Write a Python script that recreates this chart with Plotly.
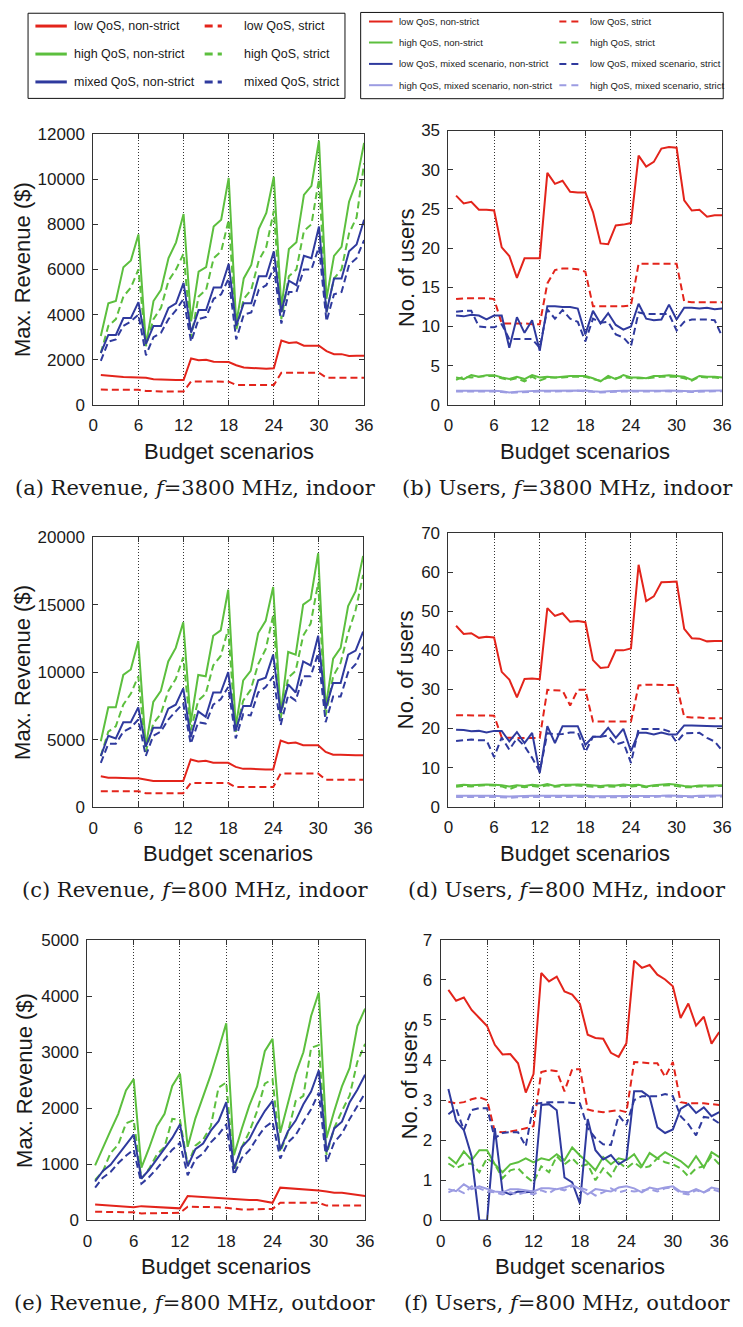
import plotly.graph_objects as go

W, H = 743, 1327
x = list(range(1, 37))

# ---------------- data ----------------
# (a) Revenue, 3800 MHz indoor
a_low_ns = [1330,1290,1280,1240,1230,1230,1200,1140,1120,1110,1100,1100,2060,1980,2000,1910,1900,1900,1760,1660,1640,1610,1600,1620,2850,2740,2770,2620,2620,2620,2380,2250,2250,2170,2180,2180]
a_low_s = [680,680,680,680,680,670,620,600,600,600,600,600,1040,1040,1040,1040,1040,1030,880,880,880,880,880,880,1430,1430,1430,1430,1430,1430,1200,1200,1200,1200,1200,1200]
a_high_ns = [3050,4500,4600,6100,6400,7550,2650,4600,5100,6500,7200,8450,3700,5900,6100,7900,8200,10050,3600,5600,6200,7800,8500,10100,4300,6900,7200,9300,9700,11700,4700,6600,7000,9000,9900,11600]
a_high_s = [2300,3500,3800,4800,5200,6000,2600,3800,4300,5500,6000,6700,3000,4800,5100,6500,6800,8200,3300,4700,5100,6400,7000,8600,3800,5700,6000,7700,8000,10000,4100,5600,6000,7600,8300,10700]
a_mix_ns = [2300,3100,3100,3850,3850,4550,2700,3500,3500,4300,4500,5400,3200,4200,4200,5200,5200,6250,3500,4500,4500,5700,5700,6800,4100,5500,5300,6600,6500,7900,4100,5600,5600,6800,7100,8200]
a_mix_s = [1950,2800,2900,3500,3700,4000,2200,3000,3200,3800,4200,4700,2800,3800,3900,4700,4900,5600,2900,4000,4100,5100,5300,6100,3600,5000,5000,6000,6000,7000,3700,4900,5000,6200,6500,7300]

# (b) Users, 3800 MHz indoor
b_low_ns = [26.7,25.7,25.9,24.9,24.9,24.8,20.1,19.0,16.2,18.7,18.7,18.7,29.6,28.2,28.6,27.2,27.1,27.1,24.6,20.6,20.5,22.9,23.0,23.2,31.8,30.4,31.0,32.7,32.9,32.8,26.1,24.8,24.9,24.0,24.2,24.2]
b_low_s = [13.5,13.6,13.6,13.6,13.6,13.5,10.4,10.4,10.4,10.4,10.3,10.3,15.5,17.2,17.4,17.4,17.3,17.0,12.6,12.6,12.6,12.6,12.6,12.7,18.0,18.0,18.0,18.0,18.0,18.0,13.2,13.1,13.1,13.1,13.1,13.1]
b_high_ns = [3.5,3.3,3.8,3.6,3.8,3.8,3.5,3.3,3.6,3.3,3.8,3.5,3.6,3.5,3.6,3.7,3.7,3.7,3.4,3.0,3.7,3.3,3.8,3.5,3.5,3.4,3.7,3.7,3.8,3.7,3.6,3.2,3.7,3.6,3.6,3.5]
b_high_s = [3.2,3.6,3.5,3.6,3.7,3.7,3.4,3.2,3.4,3.0,3.6,3.1,3.5,3.5,3.5,3.6,3.6,3.6,3.3,3.1,3.5,3.4,3.6,3.4,3.4,3.4,3.5,3.6,3.6,3.6,3.4,3.1,3.6,3.5,3.5,3.4]
b_mlow_ns = [11.4,11.3,11.5,11.4,10.9,11.4,11.4,7.3,11.2,9.2,10.8,6.9,12.6,12.6,12.5,12.5,12.3,9.0,12.0,10.4,11.7,10.2,9.6,10.0,12.9,11.0,10.8,10.9,12.8,10.9,12.4,12.4,12.3,12.4,12.2,12.3]
b_mlow_s = [11.9,12.0,12.0,10.0,9.9,9.9,10.3,8.4,8.4,8.4,8.4,7.3,12.2,11.0,12.1,11.0,10.6,8.1,11.0,10.5,10.6,9.0,8.6,7.5,11.8,11.6,11.6,11.6,11.6,9.5,10.6,10.9,10.9,10.9,10.8,8.7]
b_mhigh_ns = [1.8,1.8,1.8,1.85,1.8,1.8,1.75,1.6,1.7,1.75,1.8,1.8,1.8,1.8,1.8,1.85,1.85,1.85,1.75,1.7,1.75,1.8,1.8,1.8,1.8,1.75,1.8,1.8,1.85,1.8,1.8,1.75,1.8,1.8,1.85,1.85]
b_mhigh_s = [1.7,1.7,1.75,1.75,1.7,1.7,1.65,1.55,1.6,1.65,1.7,1.7,1.7,1.7,1.75,1.75,1.8,1.75,1.65,1.6,1.65,1.7,1.7,1.7,1.7,1.65,1.7,1.75,1.75,1.7,1.7,1.65,1.7,1.7,1.75,1.75]

# (c) Revenue, 800 MHz indoor
c_low_ns = [2300,2200,2200,2150,2150,2150,2050,1950,1950,1950,1950,1950,3550,3400,3450,3300,3300,3300,3000,2850,2850,2800,2800,2800,4950,4750,4800,4600,4600,4600,4100,3900,3900,3850,3850,3850]
c_low_s = [1200,1200,1200,1200,1200,1200,1050,1050,1050,1050,1050,1050,1800,1800,1800,1800,1800,1800,1500,1500,1500,1500,1500,1500,2500,2500,2500,2500,2500,2500,2050,2050,2050,2050,2050,2050]
c_high_ns = [4900,7400,7400,9800,10200,12300,4500,7800,8600,10800,11800,13700,6300,9800,9700,12700,13100,16100,6000,9400,10100,12900,13800,16300,6900,11500,11300,15000,15400,18800,7400,11000,11800,14900,16000,18600]
c_high_s = [3800,5600,6000,7600,8400,9700,4100,6200,6900,8600,9500,11100,5700,7900,8400,10500,11200,13200,5600,7900,8700,10600,11700,14200,6600,9600,10100,12700,13600,16600,6800,9700,10700,12900,14600,17200]
c_mix_ns = [3800,5300,5100,6300,6300,7400,4500,5900,5900,7300,7600,8800,5200,7100,6700,8500,8500,10000,5700,7500,7500,9400,9600,11300,7000,9100,8500,10800,10500,12700,7300,9200,9200,11300,11600,13000]
c_mix_s = [3300,4700,4700,5600,5900,6500,3800,5300,5600,6500,7100,7700,4700,6300,6200,7600,8000,8900,5100,6900,6800,8500,8900,9700,6100,8300,7900,9700,9700,11400,6300,8200,8200,10000,10600,11900]

# (d) Users, 800 MHz indoor
d_low_ns = [46.3,44.2,44.4,43.2,43.5,43.3,34.5,32.5,28.0,32.7,32.8,32.6,50.8,48.8,49.5,47.3,47.5,47.2,37.5,35.5,35.7,40.0,40.0,40.5,61.9,52.6,53.8,57.4,57.5,57.6,45.5,43.1,43.0,42.3,42.4,42.4]
d_low_s = [23.4,23.4,23.4,23.4,23.4,23.3,17.7,17.6,17.6,17.6,17.6,17.6,29.9,29.8,29.7,25.9,29.9,29.9,21.8,21.8,21.8,21.8,21.8,21.8,31.0,31.2,31.2,31.2,31.1,31.1,23.0,22.8,22.8,22.6,22.6,22.6]
d_high_ns = [5.4,5.6,5.5,5.6,5.7,5.6,5.5,5.2,5.5,5.3,5.6,5.4,5.8,5.3,5.6,5.6,5.7,5.6,5.4,5.3,5.5,5.4,5.7,5.5,5.6,5.2,5.5,5.6,5.8,5.6,5.3,5.2,5.4,5.4,5.5,5.5]
d_high_s = [5.1,5.3,5.2,5.4,5.5,5.4,5.2,4.5,5.2,5.0,5.3,5.1,5.5,5.1,5.3,5.4,5.4,5.3,5.1,5.0,5.2,5.1,5.4,5.2,5.3,5.0,5.3,5.4,5.5,5.3,5.0,5.0,5.2,5.2,5.3,5.3]
d_mlow_ns = [19.7,19.6,19.3,19.4,19.0,19.4,19.4,16.7,19.1,16.3,18.9,8.6,20.6,16.3,20.6,20.6,20.6,15.8,17.9,17.9,20.2,17.6,19.9,14.2,18.9,18.9,18.5,19.0,18.5,18.5,20.8,20.8,20.7,20.6,20.6,20.6]
d_mlow_s = [16.8,17.0,17.2,17.0,17.0,12.7,17.7,14.6,17.5,15.5,12.5,9.0,18.8,18.5,18.6,19.0,19.0,14.0,17.9,17.9,18.2,15.9,16.5,11.2,19.9,19.9,19.9,19.9,19.3,16.5,18.8,18.8,18.9,17.6,16.7,14.3]
d_mhigh_ns = [2.8,2.8,2.8,2.9,2.8,2.8,2.7,2.6,2.7,2.8,2.8,2.8,2.8,2.8,2.8,2.9,2.8,2.8,2.7,2.7,2.8,2.8,2.8,2.8,2.8,2.7,2.8,2.8,2.9,2.8,2.8,2.7,2.8,2.8,2.9,2.9]
d_mhigh_s = [2.5,2.5,2.6,2.6,2.5,2.5,2.4,2.3,2.4,2.5,2.5,2.5,2.5,2.5,2.6,2.6,2.6,2.5,2.4,2.4,2.5,2.5,2.5,2.5,2.5,2.4,2.5,2.6,2.6,2.5,2.5,2.4,2.5,2.5,2.6,2.6]

# (e) Revenue, 800 MHz outdoor
e_low_ns = [280,270,260,250,240,230,250,240,240,230,220,210,430,420,420,400,390,380,370,370,360,360,330,310,580,570,570,550,540,530,510,490,490,470,450,430]
e_low_s = [150,150,150,150,140,140,120,120,120,130,130,130,240,240,230,230,230,220,200,190,190,190,200,200,310,310,310,310,310,310,260,260,260,260,260,260]
e_high_ns = [980,1300,1600,1900,2320,2520,940,1290,1680,1900,2400,2620,1310,1820,2220,2600,3050,3520,1160,1630,2050,2390,3020,3240,1560,2090,2620,3000,3650,4070,1470,1950,2390,2720,3470,3780]
e_high_s = [720,870,1200,1350,1730,1790,740,920,1170,1310,1810,1790,990,1330,1440,1680,2370,2460,880,1300,1580,1950,2440,2520,1220,1570,2130,2220,3080,3130,1170,1650,1950,2230,2830,3150]
e_mix_ns = [690,880,990,1170,1340,1530,740,900,1090,1270,1470,1710,960,1270,1370,1600,1770,2110,920,1300,1450,1720,1950,2130,1260,1590,1780,2070,2300,2680,1220,1640,1760,2110,2330,2600]
e_mix_s = [580,760,860,1020,1150,1260,650,770,920,1100,1260,1380,800,1090,1190,1390,1530,1710,810,1110,1250,1470,1660,1760,1100,1390,1520,1760,1980,2280,1030,1390,1550,1810,2040,2270]

# (f) Users, 800 MHz outdoor
f_low_ns = [5.75,5.48,5.56,5.25,5.05,4.85,4.38,4.14,4.15,3.92,3.19,3.65,6.17,5.96,6.08,5.71,5.63,5.40,4.63,4.55,4.53,4.18,4.08,4.42,6.48,6.30,6.37,6.13,6.01,5.84,5.05,5.41,4.86,5.08,4.41,4.70]
f_low_s = [2.96,2.92,2.95,3.02,3.07,3.00,2.22,2.20,2.22,2.25,2.30,2.35,3.70,3.75,3.72,3.22,3.77,3.77,2.77,2.72,2.70,2.72,2.75,2.70,3.95,3.94,3.92,3.92,3.58,3.95,2.95,2.92,2.92,2.92,2.90,2.88]
f_high_ns = [1.58,1.42,1.72,1.50,1.75,1.75,1.40,1.20,1.40,1.45,1.55,1.45,1.55,1.50,1.65,1.50,1.82,1.62,1.45,1.25,1.58,1.40,1.55,1.50,1.65,1.35,1.68,1.55,1.70,1.60,1.48,1.32,1.60,1.32,1.70,1.58]
f_high_s = [1.42,1.30,1.40,1.42,1.20,1.55,1.40,1.05,1.25,1.30,1.10,0.95,1.35,1.20,1.60,1.40,1.55,1.35,1.40,1.00,1.30,1.10,1.45,1.30,1.45,1.30,1.35,1.55,1.45,1.40,1.30,1.10,1.30,1.35,1.60,1.40]
f_mlow_ns = [3.28,2.48,2.25,1.60,0.0,0.0,2.30,0.72,0.65,0.72,0.70,0.72,2.88,2.90,2.75,1.07,0.95,0.42,2.53,1.75,1.52,1.63,1.40,1.52,3.22,3.22,3.08,2.32,2.18,2.27,2.78,2.90,2.68,2.82,2.60,2.70]
f_mlow_s = [2.65,2.80,2.25,2.75,2.80,2.80,2.05,2.18,2.20,2.20,1.85,2.90,2.93,2.95,2.95,2.95,2.93,2.92,2.30,2.05,1.90,1.88,2.62,2.38,3.00,3.10,3.10,3.10,3.15,3.10,2.60,2.40,2.12,2.58,2.55,2.42]
f_mhigh_ns = [0.78,0.73,0.90,0.78,0.85,0.78,0.72,0.70,0.78,0.78,0.75,0.72,0.80,0.80,0.78,0.82,0.88,0.78,0.65,0.78,0.75,0.72,0.82,0.85,0.80,0.70,0.82,0.78,0.82,0.85,0.72,0.70,0.78,0.70,0.82,0.78]
f_mhigh_s = [0.70,0.78,0.68,0.85,0.80,0.72,0.70,0.65,0.70,0.65,0.70,0.65,0.75,0.68,0.80,0.75,0.85,0.82,0.75,0.62,0.70,0.80,0.70,0.75,0.72,0.75,0.78,0.72,0.80,0.82,0.68,0.65,0.75,0.70,0.78,0.72]

x_ticks = [0, 6, 12, 18, 24, 30, 36]
y_ranges = {"a": (0, 12000, 2000), "b": (0, 35, 5), "c": (0, 20000, 5000),
            "d": (0, 70, 10), "e": (0, 5000, 1000), "f": (0, 7, 1)}
captions = {"a": "(a) Revenue, <i>f</i>=3800 MHz, indoor",
            "b": "(b) Users, <i>f</i>=3800 MHz, indoor",
            "c": "(c) Revenue, <i>f</i>=800 MHz, indoor",
            "d": "(d) Users, <i>f</i>=800 MHz, indoor",
            "e": "(e) Revenue, <i>f</i>=800 MHz, outdoor",
            "f": "(f) Users, <i>f</i>=800 MHz, outdoor"}
y_titles = {"a": "Max. Revenue ($)", "b": "No. of users", "c": "Max. Revenue ($)",
            "d": "No. of users", "e": "Max. Revenue ($)", "f": "No. of users"}
x_title = "Budget scenarios"

legend1_labels = ["low QoS, non-strict", "low QoS, strict",
                  "high QoS, non-strict", "high QoS, strict",
                  "mixed QoS, non-strict", "mixed QoS, strict"]
legend2_labels = ["low QoS, non-strict", "low QoS, strict",
                  "high QoS, non-strict", "high QoS, strict",
                  "low QoS, mixed scenario, non-strict", "low QoS, mixed scenario, strict",
                  "high QoS, mixed scenario, non-strict", "high QoS, mixed scenario, strict"]

# ---------------- style ----------------
RED = "#e3241b"
GREEN = "#5cbf3e"
BLUE = "#2f3a9e"
LBLUE = "#9c9ce2"
DASH = "7px,4px"
SANS = "Liberation Sans, Arial, sans-serif"
SERIF = "DejaVu Serif, Liberation Serif, serif"

# panel boxes in pixels: left, right, top, bottom
boxes = {"a": (90, 366, 126.7, 401.7), "b": (452, 731, 123.3, 401.7),
         "c": (90, 365, 535.7, 810.0), "d": (452, 731, 531.7, 809.3),
         "e": (84, 367, 945.0, 1228.7), "f": (444, 728, 944.3, 1229.0)}
ytitle_x = {"a": 18, "b": 409, "c": 18, "d": 409, "e": 20, "f": 412}
caption_x = {"a": 194, "b": 573, "c": 194, "d": 573, "e": 194, "f": 573}

panel_series = {
    "a": [(a_low_ns, RED, None), (a_low_s, RED, DASH), (a_high_ns, GREEN, None), (a_high_s, GREEN, DASH),
          (a_mix_ns, BLUE, None), (a_mix_s, BLUE, DASH)],
    "b": [(b_low_ns, RED, None), (b_low_s, RED, DASH), (b_high_ns, GREEN, None), (b_high_s, GREEN, DASH),
          (b_mlow_ns, BLUE, None), (b_mlow_s, BLUE, DASH), (b_mhigh_ns, LBLUE, None), (b_mhigh_s, LBLUE, DASH)],
    "c": [(c_low_ns, RED, None), (c_low_s, RED, DASH), (c_high_ns, GREEN, None), (c_high_s, GREEN, DASH),
          (c_mix_ns, BLUE, None), (c_mix_s, BLUE, DASH)],
    "d": [(d_low_ns, RED, None), (d_low_s, RED, DASH), (d_high_ns, GREEN, None), (d_high_s, GREEN, DASH),
          (d_mlow_ns, BLUE, None), (d_mlow_s, BLUE, DASH), (d_mhigh_ns, LBLUE, None), (d_mhigh_s, LBLUE, DASH)],
    "e": [(e_low_ns, RED, None), (e_low_s, RED, DASH), (e_high_ns, GREEN, None), (e_high_s, GREEN, DASH),
          (e_mix_ns, BLUE, None), (e_mix_s, BLUE, DASH)],
    "f": [(f_low_ns, RED, None), (f_low_s, RED, DASH), (f_high_ns, GREEN, None), (f_high_s, GREEN, DASH),
          (f_mlow_ns, BLUE, None), (f_mlow_s, BLUE, DASH), (f_mhigh_ns, LBLUE, None), (f_mhigh_s, LBLUE, DASH)],
}

fig = go.Figure()
annotations = []
shapes = []
layout = {}

def px_x(p):
    return p / W

def px_y(p):
    return 1 - p / H

for i, key in enumerate(["a", "b", "c", "d", "e", "f"]):
    n = "" if i == 0 else str(i + 1)
    l, r, t, b = boxes[key]
    for vals, col, dash in panel_series[key]:
        fig.add_trace(go.Scatter(x=x, y=vals, mode="lines", xaxis="x" + n, yaxis="y" + n,
                                 line=dict(color=col, width=2, dash=dash), showlegend=False,
                                 hoverinfo="skip"))
    y0, y1, dy = y_ranges[key]
    layout["xaxis" + n] = dict(domain=[px_x(l), px_x(r)], anchor="y" + n, range=[0, 36],
                               tickvals=x_ticks, ticks="inside", ticklen=5, tickcolor="#333",
                               showline=True, linecolor="#333", linewidth=1, mirror="ticks",
                               showgrid=True, gridcolor="#333", gridwidth=1, griddash="1px,2px",
                               zeroline=False, ticklabelstandoff=5,
                               tickfont=dict(family=SANS, size=17, color="#1a1a1a"))
    layout["yaxis" + n] = dict(domain=[px_y(b), px_y(t)], anchor="x" + n, range=[y0, y1],
                               dtick=dy, tick0=0, tickformat="d", ticks="inside", ticklen=5,
                               tickcolor="#333", showline=True, linecolor="#333", linewidth=1,
                               mirror="ticks", showgrid=False, zeroline=False, ticklabelstandoff=4,
                               tickfont=dict(family=SANS, size=17, color="#1a1a1a"))
    annotations.append(dict(text=y_titles[key], xref="paper", yref="paper", x=px_x(ytitle_x[key]),
                            y=px_y((t + b) / 2), textangle=-90, showarrow=False,
                            xanchor="center", yanchor="middle",
                            font=dict(family=SANS, size=22, color="#1a1a1a")))
    annotations.append(dict(text=x_title, xref="paper", yref="paper", x=px_x((l + r) / 2),
                            y=px_y(b + 47), showarrow=False, xanchor="center", yanchor="middle",
                            font=dict(family=SANS, size=22, color="#1a1a1a")))
    annotations.append(dict(text=captions[key], xref="paper", yref="paper", x=px_x(caption_x[key]),
                            y=px_y(b + 84), showarrow=False, xanchor="center", yanchor="middle",
                            font=dict(family=SERIF, size=21, color="#1a1a1a")))

# ---------------- legends (drawn as boxes with sample lines) ----------------
def legend_box(l, t, r, b):
    shapes.append(dict(type="rect", xref="paper", yref="paper", x0=px_x(l), x1=px_x(r),
                       y0=px_y(b), y1=px_y(t), line=dict(color="#111", width=1),
                       fillcolor="white", layer="above"))

def legend_entry(x0, x1, y, text_x, label, col, dash, width, size):
    shapes.append(dict(type="line", xref="paper", yref="paper", x0=px_x(x0), x1=px_x(x1),
                       y0=px_y(y), y1=px_y(y), line=dict(color=col, width=width, dash=dash),
                       layer="above"))
    annotations.append(dict(text=label, xref="paper", yref="paper", x=px_x(text_x), y=px_y(y),
                            xanchor="left", yanchor="middle", showarrow=False,
                            font=dict(family=SANS, size=size, color="#1a1a1a")))

legend_box(23.5, 4.3, 346.5, 90.7)
leg1_cols = [RED, RED, GREEN, GREEN, BLUE, BLUE]
rows1 = [17.3, 45.7, 74.0]
for k, lab in enumerate(legend1_labels):
    row = rows1[k // 2]
    if k % 2 == 0:
        legend_entry(31, 63, row, 68, lab, leg1_cols[k], None, 3, 12.5)
    else:
        legend_entry(203.5, 221, row, 241.5, lab, leg1_cols[k], "8px,5px", 3, 12.5)

legend_box(362.5, 3.5, 732, 91)
leg2_cols = [RED, RED, GREEN, GREEN, BLUE, BLUE, LBLUE, LBLUE]
rows2 = [12.7, 34.0, 55.7, 77.3]
for k, lab in enumerate(legend2_labels):
    row = rows2[k // 2]
    if k % 2 == 0:
        legend_entry(371, 395, row, 399.5, lab, leg2_cols[k], None, 2, 9.5)
    else:
        legend_entry(565, 586, row, 594, lab, leg2_cols[k], "7px,5px", 2, 9.5)

fig.update_layout(width=W, height=H, margin=dict(l=0, r=0, t=0, b=0),
                  paper_bgcolor="white", plot_bgcolor="white",
                  annotations=annotations, shapes=shapes, **layout)

fig.write_html("out.html")
